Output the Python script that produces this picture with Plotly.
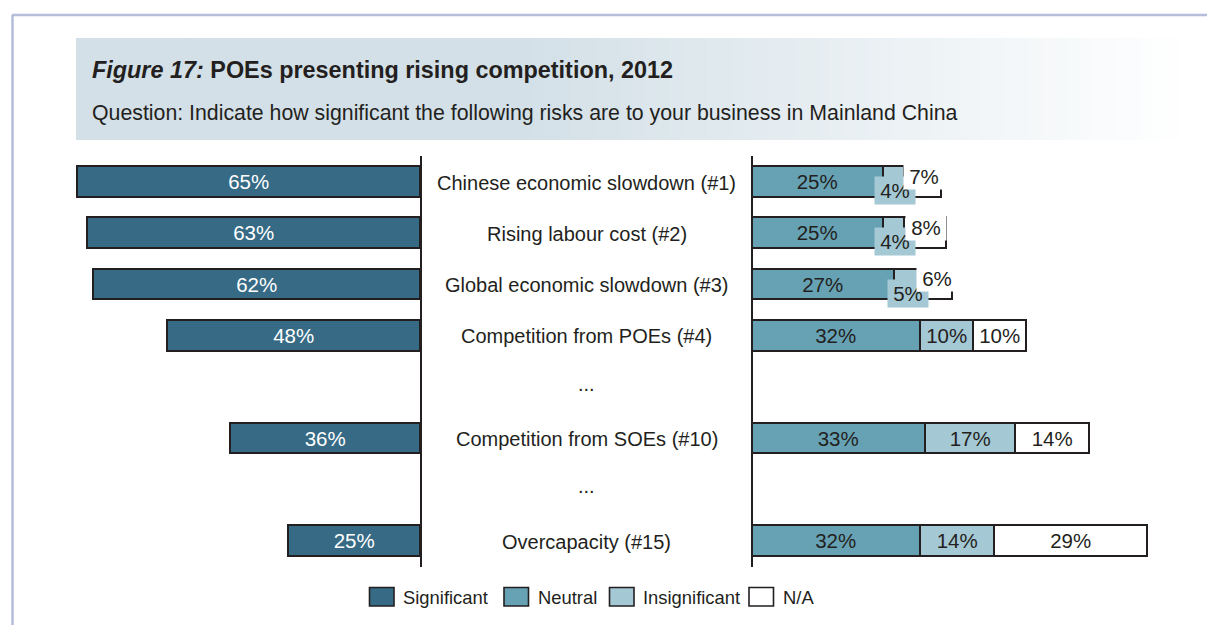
import plotly.graph_objects as go

# ---- data -------------------------------------------------------------
rows = [
    "Chinese economic slowdown (#1)",
    "Rising labour cost (#2)",
    "Global economic slowdown (#3)",
    "Competition from POEs (#4)",
    "...",
    "Competition from SOEs (#10)",
    "...",
    "Overcapacity (#15)",
]
significant = [65, 63, 62, 48, None, 36, None, 25]
neutral = [25, 25, 27, 32, None, 33, None, 32]
insignificant = [4, 4, 5, 10, None, 17, None, 14]
not_applicable = [7, 8, 6, 10, None, 14, None, 29]

series_names = ["Significant", "Neutral", "Insignificant", "N/A"]
series_colors = ["#366a85", "#66a2b4", "#a4c8d4", "#ffffff"]

title_lead = "Figure 17:"
title_main = "POEs presenting rising competition, 2012"
subtitle = ("Question: Indicate how significant the following risks are "
            "to your business in Mainland China")

# ---- layout geometry (pixels) ----------------------------------------
W, H = 1207, 625
PX_PER_PCT = 5.28
LEFT_ZERO = 421
RIGHT_ZERO = 752
ROW0 = 182.5
ROW_STEP = 51.3
FONT = "Liberation Sans, Arial, Helvetica, sans-serif"
INK = "#231f20"
EDGE = dict(color=INK, width=1.6)
SMALL = 9  # segments narrower than this get their label outside the bar


def px(x):
    return x / W


def py(y):
    return 1 - y / H


ys = list(range(len(rows)))


def labels(vals):
    return [f"{v}%" if v is not None and v >= SMALL else "" for v in vals]


fig = go.Figure()

fig.add_trace(go.Bar(
    x=significant, y=ys, orientation="h", xaxis="x", yaxis="y",
    name=series_names[0], width=0.6,
    marker=dict(color=series_colors[0], line=EDGE),
    text=labels(significant), textposition="inside", insidetextanchor="middle",
    textfont=dict(family=FONT, size=20.5, color="white"),
    constraintext="none", showlegend=False, hoverinfo="skip",
))

for name, vals, color in zip(series_names[1:],
                             [neutral, insignificant, not_applicable],
                             series_colors[1:]):
    fig.add_trace(go.Bar(
        x=vals, y=ys, orientation="h", xaxis="x2", yaxis="y",
        name=name, width=0.6,
        marker=dict(color=color, line=EDGE),
        text=labels(vals), textposition="inside", insidetextanchor="middle",
        textfont=dict(family=FONT, size=20.5, color=INK),
        constraintext="none", showlegend=False, hoverinfo="skip",
    ))

annotations = []

# call-out labels for the thin segments
for i, (n, s, na) in enumerate(zip(neutral, insignificant, not_applicable)):
    if n is None:
        continue
    if s < SMALL:
        annotations.append(dict(
            x=n + s / 2, y=i, xref="x2", yref="y", text=f"{s}%",
            showarrow=False, yshift=-8, width=38, height=25,
            bgcolor=series_colors[2],
            font=dict(family=FONT, size=20.5, color=INK)))
    if na < SMALL:
        annotations.append(dict(
            x=n + s + na / 2, y=i, xref="x2", yref="y", text=f"{na}%",
            showarrow=False, yshift=7, width=38, height=24,
            bgcolor="white",
            font=dict(family=FONT, size=20.5, color=INK)))

# row labels in the centre column
for i, r in enumerate(rows):
    annotations.append(dict(
        x=px((LEFT_ZERO + RIGHT_ZERO) / 2), y=i, xref="paper", yref="y",
        text=r, showarrow=False, xanchor="center", yanchor="middle",
        yshift=4 if r == "..." else 0,
        font=dict(family=FONT, size=20, color=INK)))

# heading
annotations.append(dict(
    x=px(90), y=py(70), xref="paper", yref="paper", xanchor="left", yanchor="middle",
    text=f"<b><i>{title_lead}</i> {title_main}</b>", showarrow=False,
    font=dict(family=FONT, size=23.4, color=INK)))
annotations.append(dict(
    x=px(90), y=py(113), xref="paper", yref="paper", xanchor="left", yanchor="middle",
    text=subtitle, showarrow=False,
    font=dict(family=FONT, size=21.3, color=INK)))

shapes = []

# heading band with a fade to white on the right
x_start, x_end, y_top, y_bot = 76, 1190, 38, 140
base = (211, 224, 231)
steps = 90
for k in range(steps):
    t = (k + 0.5) / steps
    f = 0.0 if t < 0.4 else (t - 0.4) / 0.6
    c = tuple(round(b + (255 - b) * f) for b in base)
    x0 = x_start + (x_end - x_start) * k / steps
    x1 = x_start + (x_end - x_start) * (k + 1) / steps + 0.6
    shapes.append(dict(
        type="rect", xref="paper", yref="paper",
        x0=px(x0), x1=px(min(x1, x_end)), y0=py(y_bot), y1=py(y_top),
        fillcolor=f"rgb{c}", line=dict(width=0), layer="below"))

# outer frame
frame = "#b4bdda"
shapes.append(dict(type="line", xref="paper", yref="paper",
                   x0=px(12), x1=1, y0=py(15), y1=py(15),
                   line=dict(color=frame, width=2.5)))
shapes.append(dict(type="line", xref="paper", yref="paper",
                   x0=px(12.5), x1=px(12.5), y0=0, y1=py(15),
                   line=dict(color=frame, width=2.5)))

# centre column dividers
for xv in (LEFT_ZERO, RIGHT_ZERO):
    shapes.append(dict(type="line", xref="paper", yref="paper",
                       x0=px(xv), x1=px(xv), y0=py(567), y1=py(156),
                       line=dict(color=INK, width=2)))

# legend
legend_box_x = [369.5, 504, 609.5, 749]
for name, color, bx in zip(series_names, series_colors, legend_box_x):
    shapes.append(dict(type="rect", xref="paper", yref="paper",
                       x0=px(bx), x1=px(bx + 24.5), y0=py(606), y1=py(587.5),
                       fillcolor=color, line=dict(color=INK, width=1.6)))
    annotations.append(dict(
        x=px(bx + 31.5), y=py(597), xref="paper", yref="paper",
        xanchor="left", yanchor="middle", text=name, showarrow=False,
        font=dict(family=FONT, size=18.4, color=INK)))

fig.update_layout(
    width=W, height=H,
    margin=dict(l=0, r=0, t=0, b=0),
    paper_bgcolor="white", plot_bgcolor="rgba(0,0,0,0)",
    barmode="stack", bargap=0,
    xaxis=dict(domain=[0, px(LEFT_ZERO)], range=[LEFT_ZERO / PX_PER_PCT, 0],
               visible=False, fixedrange=True),
    xaxis2=dict(domain=[px(RIGHT_ZERO), 1], range=[0, (W - RIGHT_ZERO) / PX_PER_PCT],
                visible=False, anchor="y", fixedrange=True),
    yaxis=dict(domain=[0, 1], range=[(H - ROW0) / ROW_STEP, -ROW0 / ROW_STEP],
               visible=False, fixedrange=True),
    shapes=shapes, annotations=annotations,
    font=dict(family=FONT, color=INK),
)

fig.write_html("out.html", config=dict(displayModeBar=False))
